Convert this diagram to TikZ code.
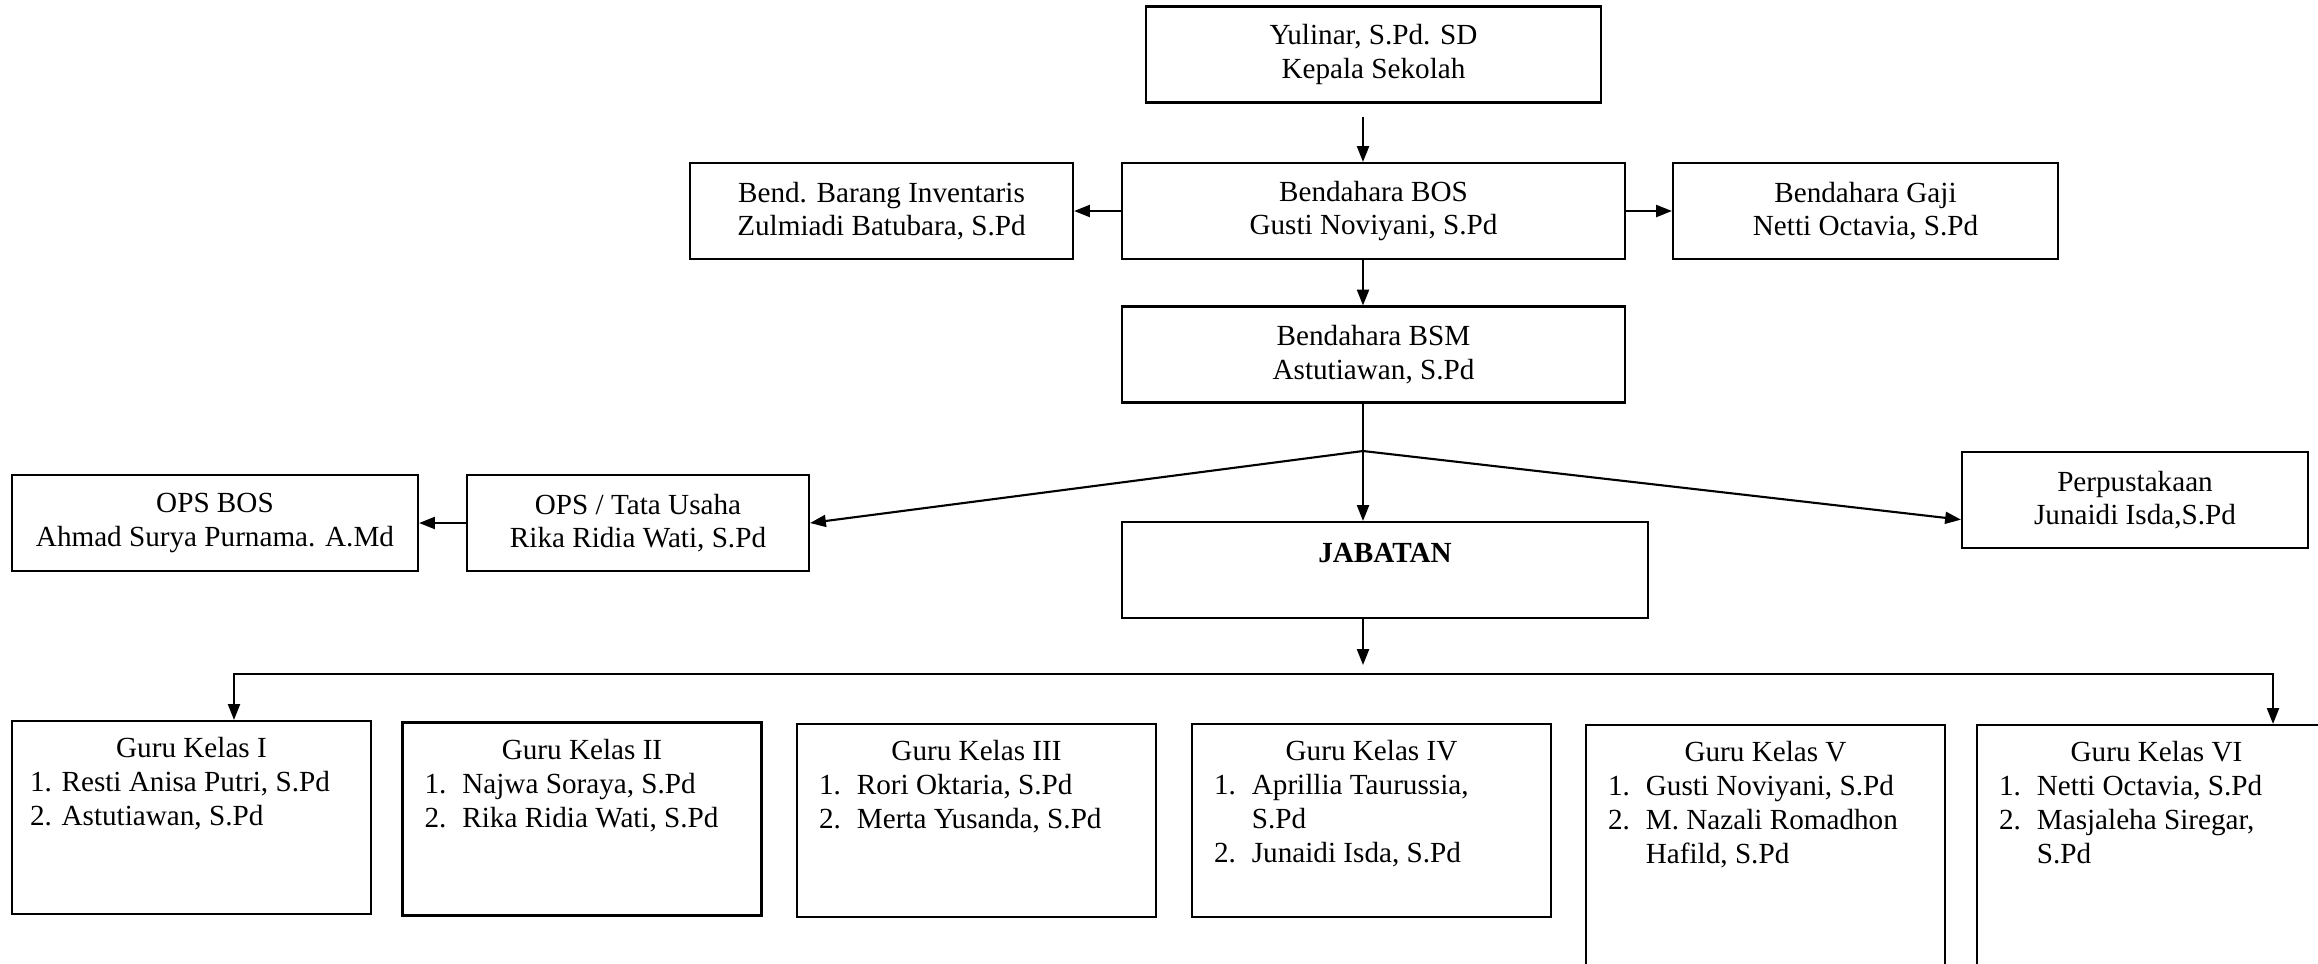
\documentclass[tikz,border=0pt]{standalone}
\usepackage{fontspec}
\setmainfont{Liberation Serif}
\usetikzlibrary{
  arrows.meta,
  calc}

\begin{document}
\begin{tikzpicture}[
  font=\fontsize{8.3}{9.6}\selectfont,
  >={Triangle[length=4.5pt,width=3.4pt]},
  line width=0.6pt]
\tikzset{
  jabatanbox/.style={draw, align=center, minimum height=0.96cm, inner sep=0pt},
  gurubox/.style={draw, minimum width=3.59cm, minimum height=1.93cm, inner sep=0pt},
  gurujudul/.style={anchor=base, inner sep=0pt, yshift=-0.38cm},
  gurudaftar/.style={anchor=base west, inner sep=0pt},
}
\useasboundingbox (0,0) rectangle (23.18,-9.63);
\clip (0,0) rectangle (23.18,-9.63);

\node[jabatanbox, minimum width=4.55cm] (kepsek) at (13.735,-0.545) {Yulinar, S.Pd. SD\\Kepala Sekolah};
\node[jabatanbox, minimum width=5.03cm] (bos) at (13.735,-2.11) {Bendahara BOS\\Gusti Noviyani, S.Pd};
\node[jabatanbox, minimum width=3.83cm] (inventaris) at (8.815,-2.11) {Bend. Barang Inventaris\\Zulmiadi Batubara, S.Pd};
\node[jabatanbox, minimum width=3.85cm] (gaji) at (18.655,-2.11) {Bendahara Gaji\\Netti Octavia, S.Pd};
\node[jabatanbox, minimum width=5.03cm] (bsm) at (13.735,-3.545) {Bendahara BSM\\Astutiawan, S.Pd};
\node[jabatanbox, minimum width=3.42cm] (tatausaha) at (6.38,-5.23) {OPS / Tata Usaha\\Rika Ridia Wati, S.Pd};
\node[jabatanbox, minimum width=4.06cm] (opsbos) at (2.15,-5.23) {OPS BOS\\Ahmad Surya Purnama. A.Md};
\node[jabatanbox, minimum width=3.46cm] (perpus) at (21.35,-5.00) {Perpustakaan\\Junaidi Isda,S.Pd};
\node[jabatanbox, minimum width=5.26cm] (jabatan) at (13.85,-5.70) {\textbf{JABATAN}\\\mbox{}};

\node[gurubox] (gk1) at (1.915,-8.175) {};
\node[gurujudul] (gk1j) at (gk1.north) {Guru Kelas I};
\node[gurudaftar] (gk1d) at ($(gk1.north west)+(0.18,-0.72)$)
  {\begin{tabular}[t]{@{}l@{}}1. Resti Anisa Putri, S.Pd\\2. Astutiawan, S.Pd\end{tabular}};
\node[gurubox] (gk2) at (5.82,-8.19) {};
\node[gurujudul] (gk2j) at (gk2.north) {Guru Kelas II};
\node[gurudaftar] (gk2d) at ($(gk2.north west)+(0.22,-0.72)$)
  {\begin{tabular}[t]{@{}l@{\hspace{0.16cm}}l@{}}1. & Najwa Soraya, S.Pd\\2. & Rika Ridia Wati, S.Pd\end{tabular}};
\node[gurubox] (gk3) at (9.765,-8.205) {};
\node[gurujudul] (gk3j) at (gk3.north) {Guru Kelas III};
\node[gurudaftar] (gk3d) at ($(gk3.north west)+(0.22,-0.72)$)
  {\begin{tabular}[t]{@{}l@{\hspace{0.16cm}}l@{}}1. & Rori Oktaria, S.Pd\\2. & Merta Yusanda, S.Pd\end{tabular}};
\node[gurubox] (gk4) at (13.715,-8.205) {};
\node[gurujudul] (gk4j) at (gk4.north) {Guru Kelas IV};
\node[gurudaftar] (gk4d) at ($(gk4.north west)+(0.22,-0.72)$)
  {\begin{tabular}[t]{@{}l@{\hspace{0.16cm}}l@{}}1. & Aprillia Taurussia,\\ & S.Pd\\2. & Junaidi Isda, S.Pd\end{tabular}};
\node[gurubox, minimum height=3cm] (gk5) at (17.655,-8.75) {};
\node[gurujudul] (gk5j) at (gk5.north) {Guru Kelas V};
\node[gurudaftar] (gk5d) at ($(gk5.north west)+(0.22,-0.72)$)
  {\begin{tabular}[t]{@{}l@{\hspace{0.16cm}}l@{}}1. & Gusti Noviyani, S.Pd\\2. & M. Nazali Romadhon\\ & Hafild, S.Pd\end{tabular}};
\node[gurubox, minimum height=3cm] (gk6) at (21.565,-8.75) {};
\node[gurujudul] (gk6j) at (gk6.north) {Guru Kelas VI};
\node[gurudaftar] (gk6d) at ($(gk6.north west)+(0.22,-0.72)$)
  {\begin{tabular}[t]{@{}l@{\hspace{0.16cm}}l@{}}1. & Netti Octavia, S.Pd\\2. & Masjaleha Siregar,\\ & S.Pd\end{tabular}};

\coordinate (cabang) at (13.63,-4.51);
\coordinate (busatas) at (13.63,-6.65);
\coordinate (busl) at (2.34,-6.74);
\coordinate (busr) at (22.73,-6.74);

\draw[->, shorten <=0.13cm] (kepsek.south -| cabang) -- (bos.north -| cabang);
\draw[->] (bos.west) -- (inventaris.east);
\draw[->] (bos.east) -- (gaji.west);
\draw[->] (bos.south -| cabang) -- (bsm.north -| cabang);
\draw (bsm.south -| cabang) -- (cabang);
\draw[->] (cabang) -- (tatausaha.east);
\draw[->] (cabang) -- (jabatan.north -| cabang);
\draw[->] (cabang) -- ($(perpus.north west)!0.7!(perpus.south west)$);
\draw[->] (tatausaha.west) -- (opsbos.east);
\draw[->] (jabatan.south -| cabang) -- (busatas);
\draw[<->] (gk1.north -| busl) -- (busl) -- (busr) -- (gk6.north -| busr);
\end{tikzpicture}
\end{document}
